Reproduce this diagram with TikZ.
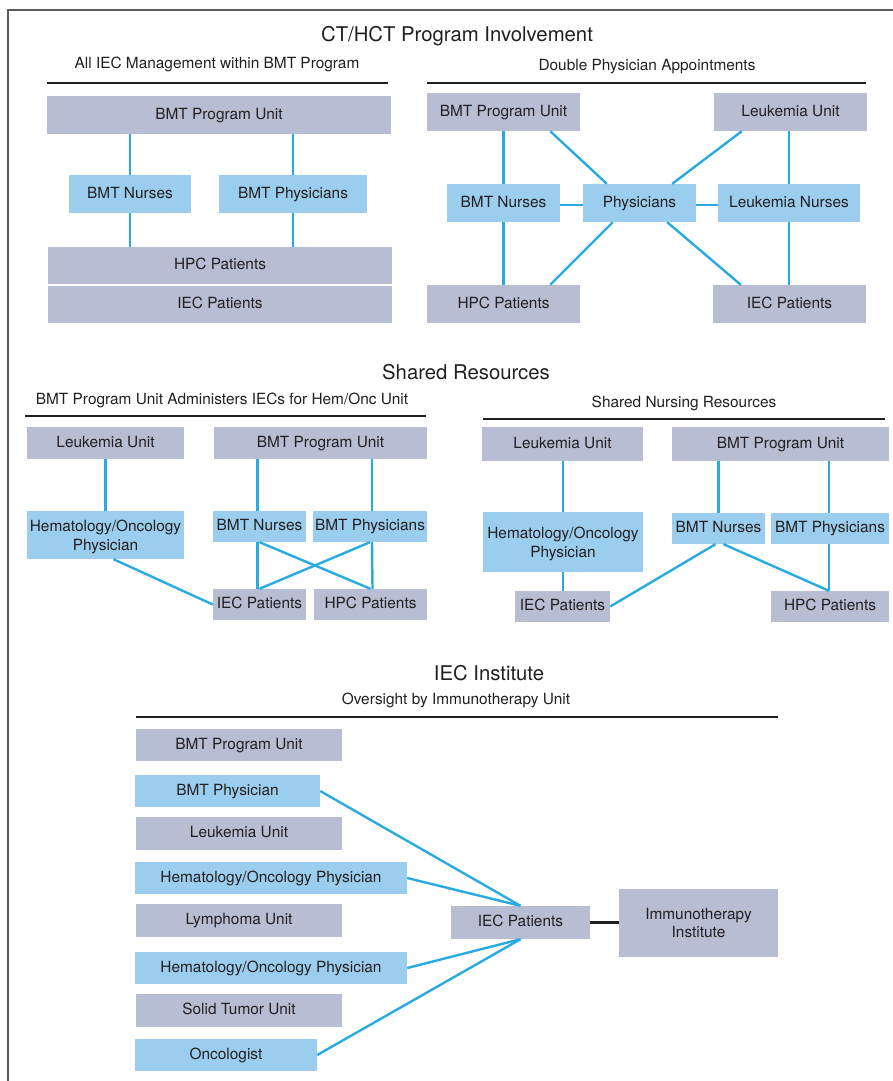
\documentclass[tikz,border=0pt]{standalone}
\usepackage{fontspec}
\setmainfont{TeX Gyre Heros}
\usetikzlibrary{calc}
\definecolor{gbox}{HTML}{B7BDD3}
\definecolor{bbox}{HTML}{9BCEEE}
\definecolor{lnk}{HTML}{29AAE1}
\definecolor{ink}{HTML}{231F20}
\definecolor{frm}{HTML}{5A5A5A}
\newcommand\ubox[7]{\node[#1, minimum width={(#5)-(#3)}, minimum height={(#6)-(#4)}] (#2) at ({((#3)+(#5))/2},{((#4)+(#6))/2}) {#7};}
\begin{document}
\begin{tikzpicture}[x=1pt,y=-1pt,
  every node/.style={text=ink, font=\fontsize{15.4}{18.5}\selectfont},
  boxbase/.style={inner sep=0pt, align=center},
  oneline/.style={text height=1.14em, text depth=0.25em},
  graybox/.style={boxbase, fill=gbox, oneline},
  bluebox/.style={boxbase, fill=bbox, oneline},
  graybox2/.style={boxbase, fill=gbox},
  bluebox2/.style={boxbase, fill=bbox, text depth=0pt},
  link/.style={draw=lnk, line width=2.4pt},
  blink/.style={draw=ink, line width=2.6pt},
  rulel/.style={draw=ink, line width=2.6pt},
  ttl/.style={font=\fontsize{20.3}{22}\selectfont},
  sub/.style={font=\fontsize{15.4}{17}\selectfont}]
\useasboundingbox (0,0) rectangle (892,1081);
% frame
\draw[frm, line width=1.6pt] (8,1082) -- (8,10) -- (893,10);

% ===== Section 1 =====
\node[ttl] (t1) at (457,36) {CT/HCT Program Involvement};
\node[sub] (s1a) at (217,64) {All IEC Management within BMT Program};
\coordinate (r1a) at (47,83); \coordinate (r1b) at (388,83);
\draw[rulel] (r1a) -- (r1b);
\ubox{graybox}{bpuA}{47}{96}{391}{134}{BMT Program Unit}
\ubox{bluebox}{bnA}{69}{175}{191}{213}{BMT Nurses}
\ubox{bluebox}{bpA}{219}{175}{367}{213}{BMT Physicians}
\ubox{graybox}{hpcA}{48}{247}{392}{284}{HPC Patients}
\ubox{graybox}{iecA}{48}{286}{392}{323}{IEC Patients}
\draw[link] (bnA.north) -- (bnA.north |- bpuA.south);
\draw[link] (bpA.north) -- (bpA.north |- bpuA.south);
\draw[link] (bnA.south) -- (bnA.south |- hpcA.north);
\draw[link] (bpA.south) -- (bpA.south |- hpcA.north);

\node[sub] (s1b) at (647,67) {Double Physician Appointments};
\coordinate (r1c) at (427,83); \coordinate (r1d) at (866,83);
\draw[rulel] (r1c) -- (r1d);
\ubox{graybox}{bpuB}{427}{93}{580}{131}{BMT Program Unit}
\ubox{graybox}{luB}{714}{93}{867}{131}{Leukemia Unit}
\ubox{bluebox}{bnB}{447}{184}{560}{222}{BMT Nurses}
\ubox{bluebox}{phB}{583}{184}{696}{222}{Physicians}
\ubox{bluebox}{lnB}{718}{184}{860}{222}{Leukemia Nurses}
\ubox{graybox}{hpcB}{427}{285}{580}{323}{HPC Patients}
\ubox{graybox}{iecB}{713}{285}{866}{323}{IEC Patients}
\draw[link] (bnB.north) -- (bnB.north |- bpuB.south);
\draw[link] (bnB.south) -- (bnB.south |- hpcB.north);
\draw[link] (lnB.north) -- (lnB.north |- luB.south);
\draw[link] (lnB.south) -- (lnB.south |- iecB.north);
\draw[link] ([yshift=-2pt]bnB.east) -- ([yshift=-2pt]phB.west);
\draw[link] ([yshift=-2pt]phB.east) -- ([yshift=-2pt]lnB.west);
\draw[link] ([xshift=-30pt]bpuB.south east) -- ([xshift=24pt]phB.north west);
\draw[link] ([xshift=28pt]luB.south west) -- ([xshift=-24pt]phB.north east);
\draw[link] ([xshift=30pt]phB.south west) -- ([xshift=-30pt]hpcB.north east);
\draw[link] ([xshift=-29pt]phB.south east) -- ([xshift=28pt]iecB.north west);

% ===== Section 2 =====
\node[ttl] (t2) at (466,372) {Shared Resources};
\node[sub] (s2a) at (222,400) {BMT Program Unit Administers IECs for Hem/Onc Unit};
\coordinate (r2a) at (25,416); \coordinate (r2b) at (426,416);
\draw[rulel] (r2a) -- (r2b);
\ubox{graybox}{luC}{27}{427}{184}{459}{Leukemia Unit}
\ubox{graybox}{bpuC}{214}{427}{427}{459}{BMT Program Unit}
\ubox{bluebox2}{hemC}{27}{511}{184}{559}{Hematology/Oncology\\Physician}
\ubox{bluebox}{bnC}{213}{511}{306}{542}{BMT Nurses}
\ubox{bluebox}{bpC}{313}{511}{427}{542}{BMT Physicians}
\ubox{graybox}{iecC}{213}{589}{306}{620}{IEC Patients}
\ubox{graybox}{hpcC}{314}{589}{427}{620}{HPC Patients}
\draw[link] (hemC.north) -- (hemC.north |- luC.south);
\draw[link] ([xshift=-2pt]bnC.north) -- ([xshift=-2pt]bnC.north |- bpuC.south);
\draw[link] ([xshift=2pt]bpC.north) -- ([xshift=2pt]bpC.north |- bpuC.south);
\draw[link] ([xshift=-2pt]bnC.south) -- ([xshift=-2pt]iecC.north);
\draw[link] ([xshift=2pt]bpC.south) -- ([xshift=2pt]hpcC.north);
\draw[link] (bnC.south) -- (hpcC.north);
\draw[link] (bpC.south) -- (iecC.north);
\draw[link] ([xshift=8pt]hemC.south) -- (iecC.west);

\node[sub] (s2b) at (684,403) {Shared Nursing Resources};
\coordinate (r2c) at (483,419); \coordinate (r2d) at (885,419);
\draw[rulel] (r2c) -- (r2d);
\ubox{graybox}{luD}{482}{427}{643}{461}{Leukemia Unit}
\ubox{graybox}{bpuD}{672}{427}{889}{461}{BMT Program Unit}
\ubox{bluebox2}{hemD}{483}{512}{643}{572}{Hematology/Oncology\\Physician}
\ubox{bluebox}{bnD}{672}{513}{765}{544}{BMT Nurses}
\ubox{bluebox}{bpD}{771}{513}{889}{544}{BMT Physicians}
\ubox{graybox}{iecD}{515}{591}{610}{622}{IEC Patients}
\ubox{graybox}{hpcD}{771}{591}{889}{622}{HPC Patients}
\draw[link] (hemD.north) -- (hemD.north |- luD.south);
\draw[link] (hemD.south) -- (hemD.south |- iecD.north);
\draw[link] (bnD.north) -- (bnD.north |- bpuD.south);
\draw[link] ([xshift=-1pt]bpD.north) -- ([xshift=-1pt]bpD.north |- bpuD.south);
\draw[link] ([xshift=-1pt]bpD.south) -- ([xshift=-1pt]hpcD.north);
\draw[link] ([xshift=-3pt]bnD.south) -- (iecD.east);
\draw[link] ([xshift=5pt]bnD.south) -- ([xshift=-1pt]hpcD.north);

% ===== Section 3 =====
\node[ttl] (t3) at (489,673) {IEC Institute};
\node[sub] (s3) at (456,700) {Oversight by Immunotherapy Unit};
\coordinate (r3a) at (136,717); \coordinate (r3b) at (778,717);
\draw[rulel] (r3a) -- (r3b);
\ubox{graybox}{bpuE}{136}{729}{342}{761}{BMT Program Unit}
\ubox{bluebox}{bphE}{135}{775}{320}{807}{BMT Physician}
\ubox{graybox}{luE}{136}{817}{342}{850}{Leukemia Unit}
\ubox{bluebox}{hem1E}{135}{862}{407}{894}{Hematology/Oncology Physician}
\ubox{graybox}{lyE}{136}{904}{342}{937}{Lymphoma Unit}
\ubox{bluebox}{hem2E}{135}{952}{407}{984}{Hematology/Oncology Physician}
\ubox{graybox}{stE}{136}{994}{342}{1027}{Solid Tumor Unit}
\ubox{bluebox}{oncE}{135}{1039}{317}{1071}{Oncologist}
\ubox{graybox}{iecE}{451}{906}{590}{939}{IEC Patients}
\ubox{graybox2}{imE}{619}{889}{778}{957}{Immunotherapy\\Institute}
\draw[blink] (iecE.east) -- (iecE.east -| imE.west);
\draw[link] (bphE.east) -- (iecE.north);
\draw[link] (hem1E.east) -- (iecE.north);
\draw[link] (hem2E.east) -- (iecE.south);
\draw[link] (oncE.east) -- (iecE.south);
\end{tikzpicture}
\end{document}
